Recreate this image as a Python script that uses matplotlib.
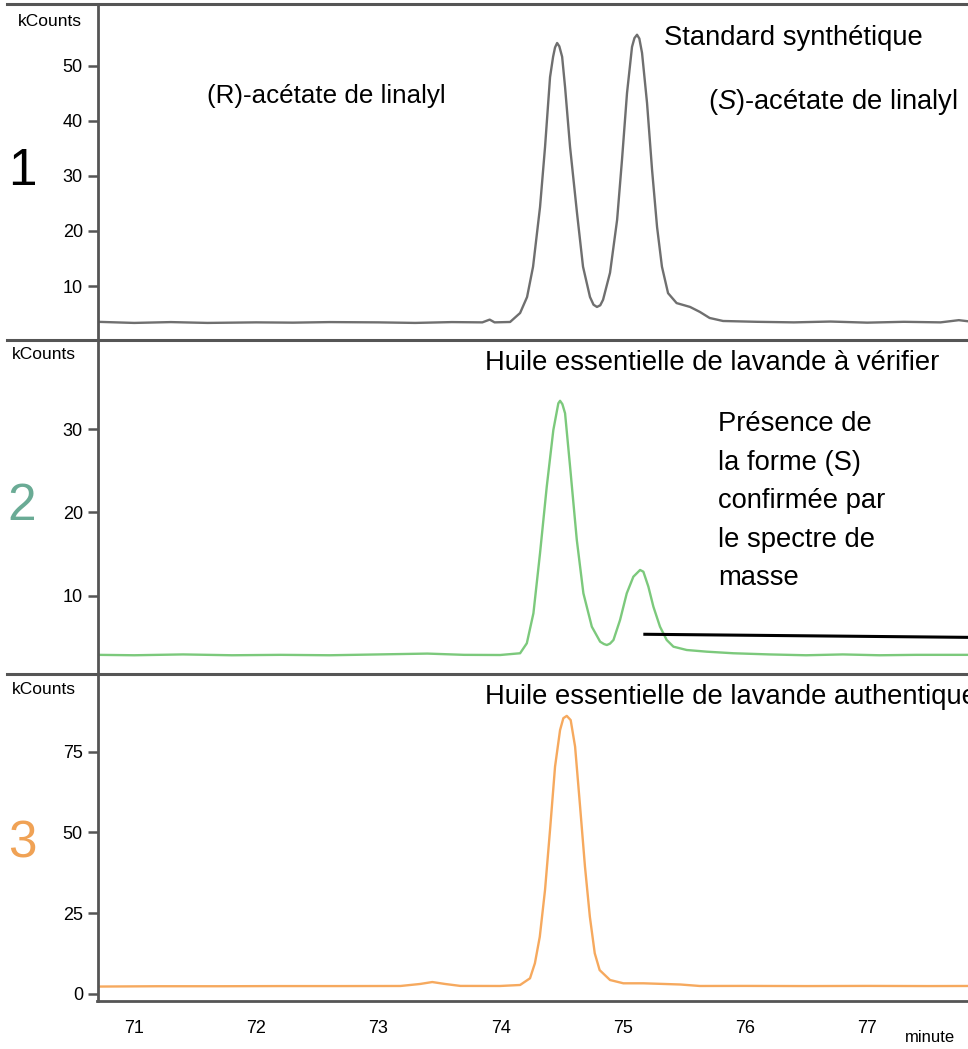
import matplotlib
matplotlib.use("Agg")
import matplotlib.pyplot as plt
from matplotlib.lines import Line2D

plt.rcParams["font.family"] = ["Liberation Sans", "DejaVu Sans"]
plt.rcParams["mathtext.fontset"] = "custom"
plt.rcParams["mathtext.it"] = "Liberation Sans:italic"
plt.rcParams["mathtext.rm"] = "Liberation Sans"

# --- data (minute, kCounts) --------------------------------------------------
t_std = [70.70, 71.0, 71.3, 71.6, 72.0, 72.3, 72.6, 73.0, 73.3, 73.6, 73.85,
         73.91, 73.95, 74.077, 74.159, 74.216, 74.265, 74.322, 74.363, 74.404,
         74.429, 74.445, 74.462, 74.48, 74.503, 74.527, 74.568, 74.625, 74.674,
         74.731, 74.76, 74.788, 74.815, 74.838, 74.895, 74.953, 74.993, 75.034,
         75.075, 75.095, 75.116, 75.135, 75.157, 75.198, 75.239, 75.28, 75.32,
         75.37, 75.44, 75.55, 75.63, 75.71, 75.82, 76.1, 76.4, 76.7, 77.0,
         77.3, 77.6, 77.75, 77.825]
k_std = [3.5, 3.3, 3.45, 3.3, 3.4, 3.35, 3.45, 3.4, 3.3, 3.45, 3.4,
         3.9, 3.4, 3.47, 5.1, 8.0, 13.5, 24.3, 35.2, 47.9,
         51.6, 53.3, 54.1, 53.5, 51.6, 46.1, 35.2, 23.2, 13.5,
         8.0, 6.6, 6.2, 6.5, 7.5, 12.4, 22.0, 32.9, 45.0,
         53.4, 55.0, 55.6, 54.9, 52.3, 43.2, 31.1, 20.7, 13.5,
         8.7, 6.9, 6.2, 5.3, 4.2, 3.65, 3.5, 3.4, 3.55, 3.35,
         3.5, 3.4, 3.8, 3.6]

t_test = [70.70, 71.0, 71.4, 71.8, 72.2, 72.6, 73.0, 73.4, 73.7, 73.995,
          74.159, 74.214, 74.268, 74.322, 74.377, 74.431, 74.472, 74.486,
          74.505, 74.527, 74.568, 74.623, 74.677, 74.746, 74.814, 74.845,
          74.869, 74.895, 74.923, 74.977, 75.032, 75.086, 75.141, 75.168,
          75.209, 75.250, 75.304, 75.359, 75.414, 75.523, 75.687, 75.905,
          76.2, 76.5, 76.8, 77.1, 77.4, 77.825]
k_test = [2.9, 2.85, 2.95, 2.85, 2.9, 2.85, 2.95, 3.05, 2.9, 2.88,
          3.09, 4.29, 7.89, 15.09, 23.08, 29.89, 33.1, 33.4,
          33.0, 31.9, 25.5, 16.7, 10.29, 6.28, 4.48, 4.2,
          4.08, 4.25, 4.68, 7.08, 10.29, 12.28, 13.09, 12.88,
          11.08, 8.68, 6.28, 4.68, 3.88, 3.48, 3.28, 3.09,
          2.95, 2.85, 2.95, 2.85, 2.9, 2.9]

t_auth = [70.70, 71.2, 71.7, 72.2, 72.7, 73.18, 73.34, 73.44, 73.545, 73.67,
          73.995, 74.159, 74.24, 74.28, 74.32, 74.363, 74.404, 74.445, 74.486,
          74.513, 74.541, 74.573, 74.609, 74.65, 74.69, 74.73, 74.77, 74.81,
          74.895, 75.004, 75.168, 75.47, 75.63, 76.0, 76.5, 77.0, 77.5, 77.825]
k_auth = [2.3, 2.4, 2.4, 2.45, 2.45, 2.48, 3.1, 3.7, 3.1, 2.5,
          2.48, 2.79, 4.86, 9.5, 17.7, 32.2, 50.8, 70.4, 81.7,
          85.4, 86.1, 84.8, 76.6, 58.0, 39.4, 23.9, 12.6, 7.4,
          4.33, 3.31, 3.31, 2.94, 2.48, 2.5, 2.45, 2.5, 2.45, 2.48]

# S-form marker in panel 2
mark_t = [75.18, 77.825]
mark_k = [5.37, 5.0]

yticks_std = [10, 20, 30, 40, 50]
yticks_test = [10, 20, 30]
yticks_auth = [0, 25, 50, 75]
xticks = [71, 72, 73, 74, 75, 76, 77]

W, H = 968, 1049
AX = "#555555"


def fx(x):
    return x / W


def fy(y):
    return 1 - y / H


fig = plt.figure(figsize=(W / 100, H / 100), dpi=100)

panels = [
    # top px, bottom px, t, k, colour, ylim, ticks
    (3.5, 340, t_std, k_std, "#6f6f6f", (0.2, 61.27), yticks_std),
    (340, 674, t_test, k_test, "#7cc97c", (0.6, 40.7), yticks_test),
    (674, 1001, t_auth, k_auth, "#f6a95e", (-2.17, 99.07), yticks_auth),
]
axes = []
for i, (top, bot, t, k, col, ylim, yt) in enumerate(panels):
    ax = fig.add_axes([fx(97.5), fy(bot), 1 - fx(97.5), (bot - top) / H])
    ax.plot(t, k, color=col, lw=1.7, solid_joinstyle="round")
    ax.set_xlim(70.70, 77.825)
    ax.set_ylim(*ylim)
    ax.set_yticks(yt)
    for s in ("top", "right"):
        ax.spines[s].set_visible(False)
    ax.spines["left"].set_color(AX)
    ax.spines["left"].set_linewidth(2)
    ax.tick_params(axis="y", length=7.5, width=1.8, color=AX, pad=3,
                   labelsize=13)
    if i < 2:
        ax.spines["bottom"].set_visible(False)
        ax.set_xticks([])
    else:
        ax.spines["bottom"].set_color(AX)
        ax.spines["bottom"].set_linewidth(2)
        ax.set_xticks(xticks)
        ax.tick_params(axis="x", length=0, pad=14, labelsize=13)
    ax.patch.set_alpha(0)
    axes.append(ax)

axes[1].plot(mark_t, mark_k, color="black", lw=2.2)

# panel separators
for y in (3.5, 340, 674):
    fig.add_artist(Line2D([fx(7), 1], [fy(y), fy(y)], color=AX, lw=2.2))

# axis unit labels and panel numbers
for x, y in ((18, 26), (12, 359), (12, 694)):
    fig.text(fx(x), fy(y), "kCounts", fontsize=12.5, va="baseline")
fig.text(fx(905), fy(1042), "minute", fontsize=12, va="baseline")
for lbl, y, col in (("1", 185, "black"), ("2", 520, "#6aab95"),
                    ("3", 858, "#f0a255")):
    fig.text(fx(22), fy(y), lbl, fontsize=37, color=col, ha="center",
             va="baseline")

# annotations
FS = 19.7
fig.text(fx(207), fy(103), "(R)-acétate de linalyl", fontsize=18.7,
         va="baseline")
fig.text(fx(664), fy(45), "Standard synthétique", fontsize=FS, va="baseline")
fig.text(fx(708), fy(109), r"($\mathit{S}$)-acétate de linalyl", fontsize=FS,
         va="baseline")
fig.text(fx(485), fy(370), "Huile essentielle de lavande à vérifier",
         fontsize=FS, va="baseline")
fig.text(fx(718), fy(585),
         "Présence de\nla forme (S)\nconfirmée par\nle spectre de\nmasse",
         fontsize=FS, va="baseline", linespacing=1.62)
fig.text(fx(485), fy(704), "Huile essentielle de lavande authentique",
         fontsize=FS, va="baseline")

fig.savefig("out.png", dpi=100)
